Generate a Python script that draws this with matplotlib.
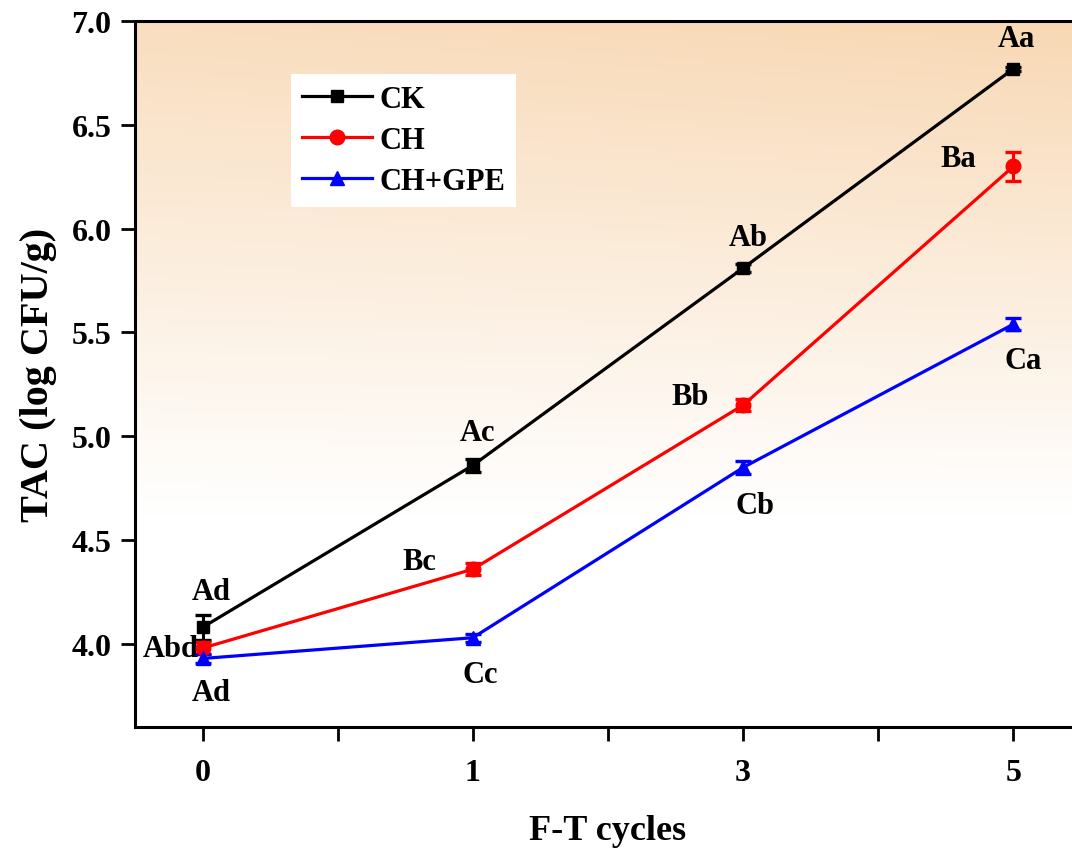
import numpy as np
import matplotlib
matplotlib.use('Agg')
import matplotlib.pyplot as plt

cycles = ['0', '1', '3', '5']
names = ['CK', 'CH', 'CH+GPE']
ck = [4.08, 4.86, 5.81, 6.77]
ck_err = [0.06, 0.03, 0.02, 0.01]
ch = [3.98, 4.36, 5.15, 6.30]
ch_err = [0.03, 0.03, 0.03, 0.07]
gpe = [3.93, 4.03, 4.85, 5.54]
gpe_err = [0.02, 0.02, 0.03, 0.03]

ck_letters = ['Ad', 'Ac', 'Ab', 'Aa']
ch_letters = ['Abd', 'Bc', 'Bb', 'Ba']
gpe_letters = ['Ad', 'Cc', 'Cb', 'Ca']

plt.rcParams['font.family'] = 'Liberation Serif'
plt.rcParams['font.weight'] = 'bold'

fig = plt.figure(figsize=(10.72, 8.53), dpi=100)
ax = fig.add_axes([135/1072, 125/853, 946/1072, 706/853])

# peach-to-white background gradient
yy = np.linspace(0, 1, 200)[:, None]
xx = np.linspace(0, 1, 200)[None, :]
f = np.clip((yy - 0.3) / 0.7, 0, 1) ** 1.0 * (0.85 + 0.15 * xx)
top = np.array([248, 216, 180]) / 255.0
img = 1 - (1 - top)[None, None, :] * f[:, :, None]
ax.imshow(img, extent=[0, 1, 0, 1], transform=ax.transAxes, origin='lower',
          aspect='auto', zorder=0)

x = np.arange(len(cycles))
series = [
    (ck, ck_err, 'black', 's', 9, ck_letters, [(9, 36), (5, 33), (5, 31), (3, 30)]),
    (ch, ch_err, 'red', 'o', 10.5, ch_letters, [(-32, 0), (-53, 8), (-53, 9), (-55, 8)]),
    (gpe, gpe_err, 'blue', '^', 10.5, gpe_letters, [(9, -34), (7, -37), (12, -38), (10, -36)]),
]
handles = []
for (vals, errs, col, mk, ms, letters, offs), lab in zip(series, names):
    eb = ax.errorbar(x, vals, yerr=errs, color=col, marker=mk, markersize=ms,
                     linewidth=2.3, elinewidth=2.2, capsize=6, capthick=2.4,
                     zorder=3)
    handles.append(eb[0])
    for xi, yi, t, o in zip(x, vals, letters, offs):
        ax.annotate(t, (xi, yi), xytext=o, textcoords='offset pixels',
                    ha='center', va='center', fontsize=22, fontweight='bold')

ax.set_xlim(-0.25, 3.25)
ax.set_ylim(3.6, 7.0)
ax.set_xticks(x)
ax.set_xticklabels(cycles)
ax.set_xticks([0.5, 1.5, 2.5], minor=True)
ax.set_yticks([4.0, 4.5, 5.0, 5.5, 6.0, 6.5, 7.0])
ax.tick_params(axis='both', which='both', direction='out', length=10, width=2,
               labelsize=23, pad=7)
ax.tick_params(axis='x', which='major', pad=12)
for s in ax.spines.values():
    s.set_linewidth(2.2)

ax.set_xlabel('F-T cycles', fontsize=26, fontweight='bold', labelpad=20)
ax.set_ylabel('TAC (log CFU/g)', fontsize=29, fontweight='bold', labelpad=10)

leg = ax.legend(handles, names,
                loc='upper left', bbox_to_anchor=(0.165, 0.925), fontsize=22,
                frameon=True, fancybox=False, handlelength=2.3, handletextpad=0.25,
                borderpad=0.35, labelspacing=0.4, borderaxespad=0)
leg.get_frame().set_facecolor('white')
leg.get_frame().set_edgecolor('none')
leg.get_frame().set_alpha(1)

fig.savefig('out.png', dpi=100)
